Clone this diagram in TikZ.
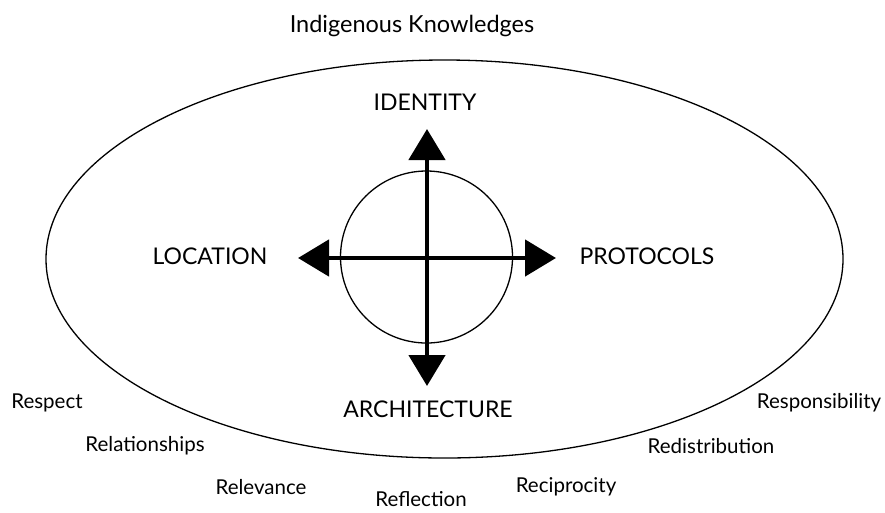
\documentclass[tikz,border=0pt]{standalone}
\usepackage{fontspec}
\setmainfont{Lato}
\usetikzlibrary{arrows.meta,shapes.geometric}
\begin{document}
\begin{tikzpicture}[x=1pt,y=-1pt,
  lbl/.style={font=\fontsize{20.5}{24}\selectfont, inner sep=0pt},
  titlelbl/.style={font=\fontsize{23.5}{27}\selectfont, inner sep=0pt},
  capslbl/.style={font=\fontsize{23}{27}\selectfont, inner sep=0pt},
  axis/.style={line width=4.8pt, -{Triangle[length=31pt,width=36pt]}}]
\useasboundingbox (0,0) rectangle (885,512);
\node[draw, ellipse, minimum width=797pt, minimum height=398pt, line width=1.3pt, inner sep=0pt] (outer) at (444.5,259) {};
\node[draw, circle, minimum size=172pt, line width=1.3pt, inner sep=0pt] (inner) at (426.5,257) {};
\coordinate (c) at (427,258);
\coordinate (top) at (427,129);
\coordinate (bot) at (427,386);
\coordinate (lft) at (298,258);
\coordinate (rgt) at (556,258);
\draw[axis] (c) -- (top);
\draw[axis] (c) -- (bot);
\draw[axis] (c) -- (lft);
\draw[axis] (c) -- (rgt);
\node[titlelbl] (ik) at (412,26) {Indigenous Knowledges};
\node[capslbl] (id) at (425,102) {IDENTITY};
\node[capslbl] (loc) at (210,256) {LOCATION};
\node[capslbl] (pro) at (647,256) {PROTOCOLS};
\node[capslbl] (arc) at (428,409) {ARCHITECTURE};
\node[lbl] (r1) at (47,403) {Respect};
\node[lbl] (r2) at (145,446) {Relationships};
\node[lbl] (r3) at (261,487) {Relevance};
\node[lbl] (r4) at (421,499) {Reflection};
\node[lbl] (r5) at (566,487) {Reciprocity};
\node[lbl] (r6) at (711,446) {Redistribution};
\node[lbl] (r7) at (819,403) {Responsibility};
\end{tikzpicture}
\end{document}
